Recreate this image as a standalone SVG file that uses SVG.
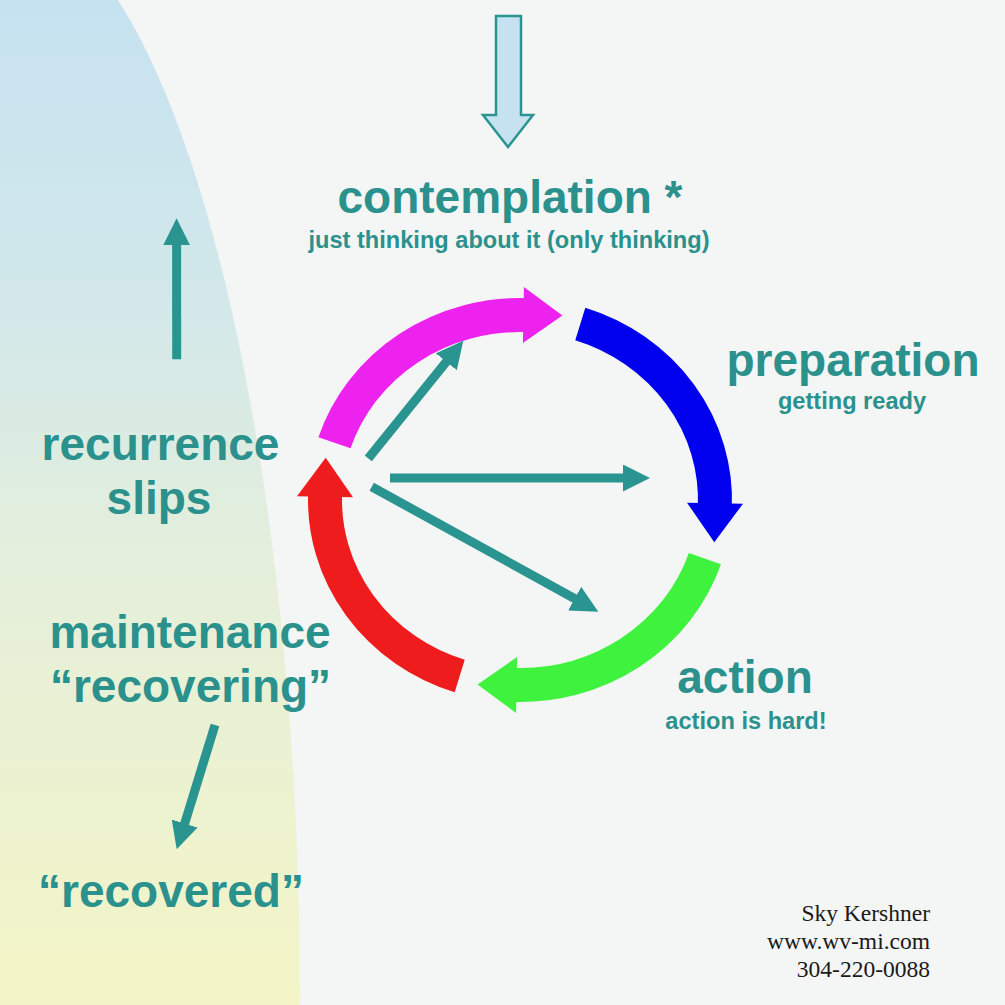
<svg xmlns="http://www.w3.org/2000/svg" width="1005" height="1005" viewBox="0 0 1005 1005">
  <defs>
    <linearGradient id="bgGrad" x1="0" y1="0" x2="0" y2="1">
      <stop offset="0" stop-color="#c6e2f1"/>
      <stop offset="0.3" stop-color="#d2e8ea"/>
      <stop offset="0.55" stop-color="#e4efdc"/>
      <stop offset="1" stop-color="#f4f5c6"/>
    </linearGradient>
    <marker id="head" markerUnits="userSpaceOnUse" markerWidth="27" markerHeight="27" viewBox="0 0 27 27" refX="7" refY="13.5" orient="auto">
      <path d="M0,0 L27,13.5 L0,27 Z" fill="#2a9490"/>
    </marker>
  </defs>
  <style>
    .big { font-family: "Liberation Sans", Arial, sans-serif; font-weight: bold; font-size: 46px; fill: #2a918d; text-anchor: middle; }
    .small { font-family: "Liberation Sans", Arial, sans-serif; font-weight: bold; font-size: 23.6px; fill: #2a918d; text-anchor: middle; }
    .credit { font-family: "Liberation Serif", "Times New Roman", serif; font-size: 23.5px; fill: #1a1a1a; text-anchor: end; }
    .conn { stroke: #2a9490; stroke-width: 9; fill: none; marker-end: url(#head); }
    .band { fill: none; stroke-width: 34; }
  </style>

  <rect x="0" y="0" width="1005" height="1005" fill="#f4f5f5"/>
  <path d="M0,0 L118,0 A300,1093 0 0 1 300,1005 L0,1005 Z" fill="url(#bgGrad)"/>

  <g id="top-arrow">
    <polygon points="496,16 521,16 521,115 533,115 508,147 483,115 496,115" fill="#c6e2f0" stroke="#2a9490" stroke-width="2.5" stroke-linejoin="miter"/>
  </g>

  <g id="cycle">
    <g id="arc-contemplation">
      <path class="band" stroke="#ee22ee" d="M334.5,442.8 A195,185 0 0 1 528.5,315.2"/>
      <polygon fill="#ee22ee" points="523.9,287.0 562.4,315.6 522.9,343.0"/>
    </g>
    <g id="arc-preparation">
      <path class="band" stroke="#0000ee" d="M580.3,324.0 A195,185 0 0 1 714.8,508.1"/>
      <polygon fill="#0000ee" points="743.0,503.7 714.3,542.2 687.0,502.7"/>
    </g>
    <g id="arc-action">
      <path class="band" stroke="#3ef23e" d="M704.9,558.7 A195,185 0 0 1 511.5,684.8"/>
      <polygon fill="#3ef23e" points="517.1,657.0 477.6,684.4 516.1,713.0"/>
    </g>
    <g id="arc-maintenance">
      <path class="band" stroke="#ee1c1c" d="M459.7,676.0 A195,185 0 0 1 325.2,491.9"/>
      <polygon fill="#ee1c1c" points="353.0,497.3 325.7,457.8 297.0,496.3"/>
    </g>
  </g>

  <g id="connectors">
    <line class="conn" x1="368.3" y1="458.3" x2="450.7" y2="356.3"/>
    <line class="conn" x1="390" y1="478" x2="630" y2="478"/>
    <line class="conn" x1="371.7" y1="486.7" x2="580.8" y2="602.0"/>
    <line class="conn" x1="176.7" y1="359.3" x2="176.6" y2="238.3"/>
    <line class="conn" x1="215" y1="725" x2="182.6" y2="830.2"/>
  </g>

  <g id="node-contemplation">
    <text class="big" x="510" y="213">contemplation *</text>
    <text class="small" x="509" y="248">just thinking about it (only thinking)</text>
  </g>
  <g id="node-preparation">
    <text class="big" x="853" y="376">preparation</text>
    <text class="small" x="852" y="409">getting ready</text>
  </g>
  <g id="node-action">
    <text class="big" x="745" y="693">action</text>
    <text class="small" x="746" y="729">action is hard!</text>
  </g>
  <g id="node-recurrence">
    <text class="big" x="160.5" y="460">recurrence</text>
    <text class="big" x="159" y="514">slips</text>
  </g>
  <g id="node-maintenance">
    <text class="big" x="190" y="648">maintenance</text>
    <text class="big" x="190.5" y="702">“recovering”</text>
  </g>
  <g id="node-recovered">
    <text class="big" x="171" y="907">“recovered”</text>
  </g>
  <g id="credit">
    <text class="credit" x="930" y="921">Sky Kershner</text>
    <text class="credit" x="930" y="949">www.wv-mi.com</text>
    <text class="credit" x="930" y="977">304-220-0088</text>
  </g>
</svg>
